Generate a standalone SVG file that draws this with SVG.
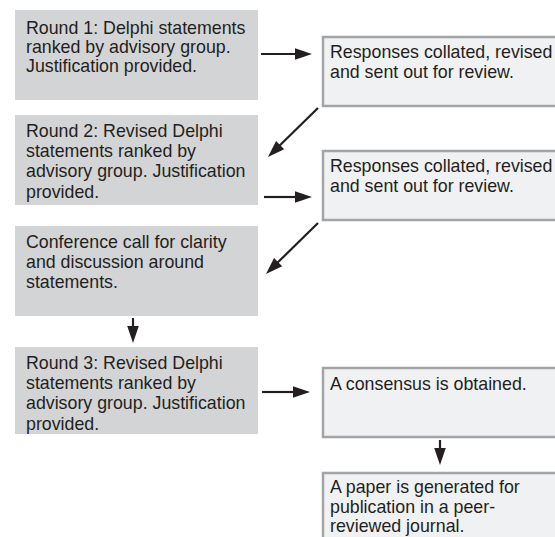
<svg xmlns="http://www.w3.org/2000/svg" width="555" height="537" viewBox="0 0 555 537">
<style>
.lb{fill:#d3d4d6;stroke:none}
.rb{fill:#f0f1f3;stroke:#a3a4a6;stroke-width:2.5}
.t{font-family:"Liberation Sans",Arial,sans-serif;font-size:17.8px;fill:#231f20}
.c{stroke:#231f20;stroke-width:2.2;fill:none;marker-end:url(#ah)}
</style>
<defs>
<marker id="ah" markerUnits="userSpaceOnUse" markerWidth="18" markerHeight="12" viewBox="0 0 18 12" refX="1" refY="6" orient="auto" overflow="visible">
<path d="M0,0.2 L17,6 L0,11.8 z" fill="#231f20"/>
</marker>
</defs>
<rect width="555" height="537" fill="#ffffff"/>
<g id="round1">
<rect class="lb" x="15" y="10" width="243" height="90"/>
<text class="t"><tspan x="26" y="34">Round 1: Delphi statements</tspan><tspan x="26" y="53">ranked by advisory group.</tspan><tspan x="26" y="72">Justification provided.</tspan></text>
</g>
<g id="round2">
<rect class="lb" x="15" y="115" width="243" height="90"/>
<text class="t"><tspan x="26" y="137">Round 2: Revised Delphi</tspan><tspan x="26" y="157">statements ranked by</tspan><tspan x="26" y="177">advisory group. Justification</tspan><tspan x="26" y="198">provided.</tspan></text>
</g>
<g id="conference">
<rect class="lb" x="15" y="226" width="243" height="90"/>
<text class="t"><tspan x="26" y="248">Conference call for clarity</tspan><tspan x="26" y="268">and discussion around</tspan><tspan x="26" y="288">statements.</tspan></text>
</g>
<g id="round3">
<rect class="lb" x="15" y="347" width="243" height="87"/>
<text class="t"><tspan x="26" y="369">Round 3: Revised Delphi</tspan><tspan x="26" y="389">statements ranked by</tspan><tspan x="26" y="409">advisory group. Justification</tspan><tspan x="26" y="430">provided.</tspan></text>
</g>
<g id="responses1">
<rect class="rb" x="323" y="37" width="250" height="69"/>
<text class="t"><tspan x="330" y="58">Responses collated, revised</tspan><tspan x="330" y="78">and sent out for review.</tspan></text>
</g>
<g id="responses2">
<rect class="rb" x="323" y="151" width="250" height="69"/>
<text class="t"><tspan x="330" y="172">Responses collated, revised</tspan><tspan x="330" y="192">and sent out for review.</tspan></text>
</g>
<g id="consensus">
<rect class="rb" x="323" y="368" width="250" height="69"/>
<text class="t"><tspan x="330" y="390">A consensus is obtained.</tspan></text>
</g>
<g id="paper">
<rect class="rb" x="323" y="473" width="250" height="80"/>
<text class="t"><tspan x="330" y="493">A paper is generated for</tspan><tspan x="330" y="513">publication in a peer-</tspan><tspan x="330" y="532">reviewed journal.</tspan></text>
</g>
<g id="connectors">
<line class="c" x1="261" y1="54" x2="296" y2="54"/>
<line class="c" x1="318" y1="108" x2="279.4" y2="145.8"/>
<line class="c" x1="264" y1="197" x2="296" y2="197"/>
<line class="c" x1="318" y1="223" x2="277.4" y2="262.8"/>
<line class="c" x1="133" y1="318" x2="133" y2="327"/>
<line class="c" x1="262" y1="392" x2="294" y2="392"/>
<line class="c" x1="440" y1="440" x2="440" y2="449"/>
</g>
</svg>
